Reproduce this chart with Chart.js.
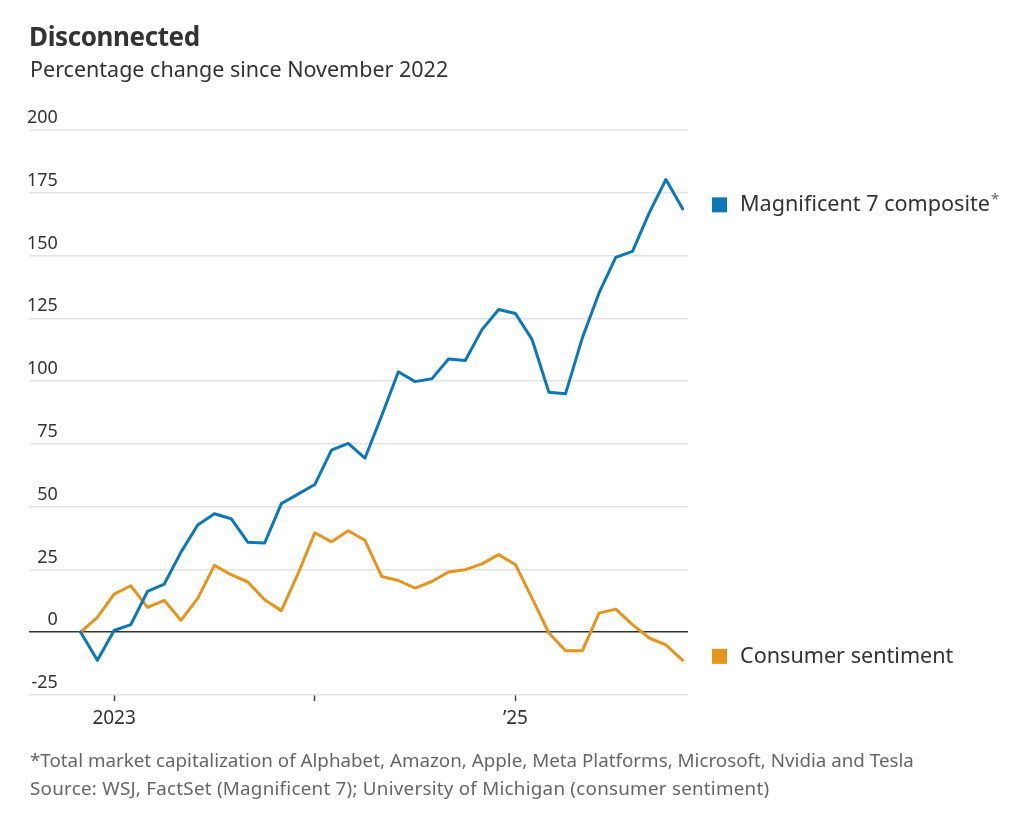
<!DOCTYPE html>
<html>
<head>
<meta charset="utf-8">
<script src="https://cdn.jsdelivr.net/npm/chart.js@4.4.1/dist/chart.umd.min.js"></script>
<style>
  html, body { margin: 0; padding: 0; background: #fff; }
  body { width: 1024px; height: 820px; position: relative; overflow: hidden; font-family: "Noto Sans", sans-serif; }
  #chart { position: absolute; left: 0; top: 0; }
  .title { position: absolute; left: 29px; top: 22px; font-size: 26px; line-height: 28px; font-weight: 700; color: #333; letter-spacing: -0.4px; }
  .subtitle { position: absolute; left: 30px; top: 55px; font-size: 21.5px; line-height: 28px; color: #333; }
  .note { position: absolute; left: 30px; font-size: 18.8px; line-height: 24px; color: #666; white-space: nowrap; }
</style>
</head>
<body>
<canvas id="chart" width="1024" height="820"></canvas>
<div class="title">Disconnected</div>
<div class="subtitle">Percentage change since November 2022</div>
<div class="note" style="top:748px">*Total market capitalization of Alphabet, Amazon, Apple, Meta Platforms, Microsoft, Nvidia and Tesla</div>
<div class="note" style="top:776px; letter-spacing:0.25px">Source: WSJ, FactSet (Magnificent 7); University of Michigan (consumer sentiment)</div>
<script>
const months = [
  "Nov 2022", "Dec 2022",
  "Jan 2023", "Feb 2023", "Mar 2023", "Apr 2023", "May 2023", "Jun 2023",
  "Jul 2023", "Aug 2023", "Sep 2023", "Oct 2023", "Nov 2023", "Dec 2023",
  "Jan 2024", "Feb 2024", "Mar 2024", "Apr 2024", "May 2024", "Jun 2024",
  "Jul 2024", "Aug 2024", "Sep 2024", "Oct 2024", "Nov 2024", "Dec 2024",
  "Jan 2025", "Feb 2025", "Mar 2025", "Apr 2025", "May 2025", "Jun 2025",
  "Jul 2025", "Aug 2025", "Sep 2025", "Oct 2025", "Nov 2025"
];

const mag7 = [
  0, -11.2,
  0.7, 3, 16.3, 19.2, 31.9, 42.7, 47.2, 45.2, 35.8, 35.5, 51.2, 55,
  58.8, 72.5, 75.2, 69.3, 86.2, 103.7, 99.8, 100.9, 108.8, 108.2, 120.5, 128.5,
  126.9, 116.5, 95.6, 95, 117.2, 135.1, 149.3, 151.7, 167, 180.3, 168.6
];

const sentiment = [
  0, 5.9,
  15.2, 18.5, 9.9, 12.7, 4.7, 13.5, 26.6, 22.9, 20, 12.9, 8.6, 23.3,
  39.6, 36, 40.4, 36.6, 22.2, 20.6, 17.6, 20.2, 24, 24.9, 27.2, 30.9,
  26.9, 13.5, -0.3, -7.4, -7.4, 7.6, 9.2, 3, -2.3, -5, -11.2
];

const tickMonths = ["Jan 2023", "Jan 2024", "Jan 2025"];
const tickLabels = ["2023", "", "\u201925"];
const yTicks = [-25, 0, 25, 50, 75, 100, 125, 150, 175, 200];

const seriesNames = ["Magnificent 7 composite", "Consumer sentiment"];
const seriesNotes = ["*", ""];
const colors = ["#0c78b5", "#e5951e"];

const FONT = "'Noto Sans', sans-serif";

// labels at the right end of each line
const endLabels = {
  id: "endLabels",
  afterDatasetsDraw(chart) {
    const { ctx, chartArea, scales } = chart;
    ctx.save();
    chart.data.datasets.forEach((ds, i) => {
      const last = ds.data[ds.data.length - 1].y;
      const y = scales.y.getPixelForValue(last) - 4;
      const x = chartArea.right + 24;
      ctx.fillStyle = colors[i];
      ctx.fillRect(x, y - 7.5, 15, 15);
      ctx.fillStyle = "#333";
      ctx.font = "21.6px " + FONT;
      ctx.textBaseline = "middle";
      ctx.textAlign = "left";
      ctx.fillText(seriesNames[i], x + 28, y);
      if (seriesNotes[i]) {
        const w = ctx.measureText(seriesNames[i]).width;
        ctx.font = "15px " + FONT;
        ctx.fillStyle = "#666";
        ctx.fillText(seriesNotes[i], x + 29 + w, y - 5);
      }
    });
    ctx.restore();
  }
};

new Chart(document.getElementById("chart"), {
  type: "line",
  data: {
    datasets: [
      {
        label: seriesNames[0],
        data: months.map((m, i) => ({ x: i, y: mag7[i] })),
        borderColor: colors[0],
      },
      {
        label: seriesNames[1],
        data: months.map((m, i) => ({ x: i, y: sentiment[i] })),
        borderColor: colors[1],
      },
    ],
  },
  options: {
    responsive: false,
    animation: false,
    devicePixelRatio: 1,
    layout: { padding: { left: 29, right: 336, top: 130, bottom: 80 } },
    elements: {
      point: { radius: 0 },
      line: { borderWidth: 3, tension: 0, borderJoinStyle: "round", borderCapStyle: "round" },
    },
    plugins: {
      legend: { display: false },
      tooltip: { enabled: false },
    },
    scales: {
      x: {
        type: "linear",
        min: -3.09,
        max: 36.32,
        afterBuildTicks: (scale) => {
          scale.ticks = tickMonths.map((m) => ({ value: months.indexOf(m) }));
        },
        afterFit: (scale) => { scale.height = 45; },
        ticks: {
          autoSkip: false,
          maxRotation: 0,
          padding: 6,
          color: "#333",
          font: { family: FONT, size: 19 },
          callback: (v, i) => tickLabels[i],
        },
        grid: { drawOnChartArea: false, drawTicks: true, tickLength: 6, tickColor: "#444", tickWidth: 1.5 },
        border: { display: false },
      },
      y: {
        min: -25,
        max: 200,
        afterBuildTicks: (scale) => {
          scale.ticks = yTicks.map((v) => ({ value: v }));
        },
        afterFit: (scale) => { scale.width = 0; },
        ticks: {
          mirror: true,
          crossAlign: "far",
          padding: -2,
          labelOffset: -12,
          color: "#333",
          font: { family: FONT, size: 18 },
        },
        grid: {
          drawTicks: false,
          lineWidth: 1.5,
          color: (c) => (c.tick && c.tick.value === 0 ? "#333" : "#e3e3e3"),
        },
        border: { display: false },
      },
    },
  },
  plugins: [endLabels],
});
</script>
</body>
</html>
